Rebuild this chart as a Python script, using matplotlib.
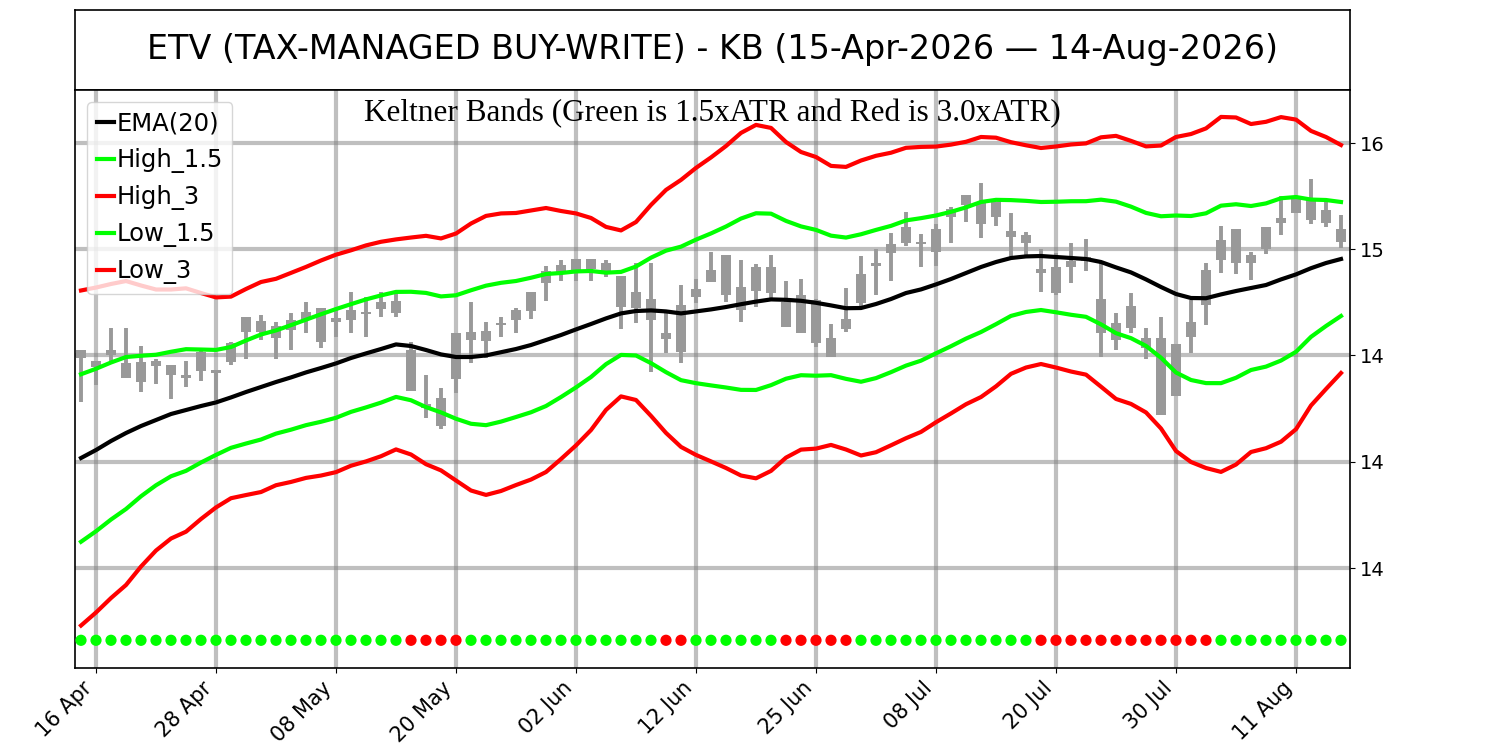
import numpy as np
import pandas as pd
import matplotlib
matplotlib.use('Agg')
import matplotlib.pyplot as plt
import matplotlib.transforms as mtransforms

# trading days 15-Apr-2026 .. 14-Aug-2026 (US holidays removed)
holidays = ['2026-05-25', '2026-06-19', '2026-07-03']
dates = pd.bdate_range('2026-04-15', '2026-08-14', freq='C', holidays=holidays)

open_ = [14.965, 14.882, 14.965, 14.899, 14.807, 14.910, 14.890, 14.827, 14.860, 14.865,
         14.904, 15.057, 15.110, 15.024, 15.065, 15.115, 15.004, 15.104, 15.115, 15.145,
         15.169, 15.149, 14.965, 14.694, 14.587, 14.820, 15.015, 15.010, 15.090, 15.115,
         15.162, 15.299, 15.349, 15.365, 15.419, 15.402, 15.335, 15.174, 15.219, 15.049,
         14.957, 15.232, 15.307, 15.440, 15.165, 15.262, 15.382, 15.207, 15.240, 15.215,
         15.024, 15.069, 15.199, 15.385, 15.449, 15.499, 15.507, 15.457, 15.629, 15.690,
         15.699, 15.632, 15.562, 15.540, 15.369, 15.252, 15.379, 15.429, 15.219, 15.015,
         15.185, 15.024, 15.024, 14.735, 15.029, 15.190, 15.415, 15.569, 15.402, 15.469,
         15.602, 15.649, 15.724, 15.665, 15.569]
high = [14.965, 14.910, 15.074, 15.074, 14.985, 14.920, 14.890, 14.910, 14.965, 14.865,
        15.004, 15.132, 15.140, 15.104, 15.149, 15.207, 15.174, 15.174, 15.254, 15.232,
        15.254, 15.254, 15.007, 14.840, 14.774, 15.049, 15.204, 15.107, 15.129, 15.174,
        15.257, 15.385, 15.415, 15.419, 15.419, 15.415, 15.335, 15.402, 15.399, 15.152,
        15.290, 15.319, 15.457, 15.440, 15.415, 15.395, 15.440, 15.310, 15.319, 15.219,
        15.095, 15.274, 15.435, 15.469, 15.552, 15.655, 15.545, 15.595, 15.679, 15.740,
        15.799, 15.707, 15.652, 15.557, 15.469, 15.449, 15.499, 15.519, 15.407, 15.149,
        15.249, 15.074, 15.132, 14.995, 15.215, 15.402, 15.585, 15.569, 15.457, 15.579,
        15.735, 15.735, 15.819, 15.715, 15.640]
low = [14.703, 14.790, 14.907, 14.827, 14.757, 14.794, 14.719, 14.779, 14.812, 14.715,
       14.890, 14.920, 15.015, 14.920, 14.965, 15.049, 14.974, 15.032, 15.049, 15.032,
       15.132, 15.132, 14.760, 14.627, 14.570, 14.749, 14.899, 14.924, 15.032, 15.049,
       15.119, 15.212, 15.312, 15.312, 15.312, 15.332, 15.069, 15.102, 14.857, 14.949,
       14.899, 15.199, 15.307, 15.207, 15.107, 15.179, 15.219, 15.082, 15.049, 14.982,
       14.929, 15.057, 15.169, 15.240, 15.312, 15.485, 15.379, 15.385, 15.502, 15.607,
       15.524, 15.585, 15.429, 15.429, 15.257, 15.240, 15.302, 15.362, 14.930, 14.965,
       15.049, 14.919, 14.640, 14.735, 14.949, 15.090, 15.349, 15.345, 15.315, 15.445,
       15.540, 15.649, 15.595, 15.579, 15.474]
close = [14.923, 14.910, 14.940, 14.827, 14.907, 14.885, 14.840, 14.840, 14.957, 14.849,
         14.999, 15.132, 15.057, 15.087, 15.115, 15.157, 15.174, 15.124, 15.165, 15.157,
         15.207, 15.210, 14.760, 14.674, 14.727, 15.049, 15.057, 15.060, 15.102, 15.165,
         15.257, 15.362, 15.390, 15.419, 15.369, 15.352, 15.179, 15.257, 15.115, 15.019,
         15.190, 15.269, 15.365, 15.240, 15.282, 15.379, 15.252, 15.082, 15.049, 14.999,
         14.932, 15.119, 15.345, 15.402, 15.495, 15.582, 15.495, 15.569, 15.669, 15.740,
         15.595, 15.707, 15.532, 15.499, 15.349, 15.379, 15.412, 15.412, 15.049, 15.100,
         15.074, 14.974, 14.640, 14.995, 15.107, 15.365, 15.515, 15.402, 15.440, 15.579,
         15.624, 15.724, 15.615, 15.602, 15.507]

ema20 = [14.425, 14.465, 14.510, 14.550, 14.585, 14.615, 14.645, 14.665, 14.685, 14.703,
         14.728, 14.755, 14.780, 14.805, 14.828, 14.853, 14.875, 14.898, 14.925, 14.948,
         14.970, 14.993, 14.985, 14.965, 14.943, 14.930, 14.930, 14.938, 14.954, 14.970,
         14.990, 15.015, 15.040, 15.068, 15.095, 15.123, 15.148, 15.160, 15.163, 15.158,
         15.148, 15.158, 15.168, 15.180, 15.194, 15.207, 15.218, 15.216, 15.211, 15.201,
         15.188, 15.174, 15.175, 15.195, 15.220, 15.250, 15.268, 15.293, 15.320, 15.350,
         15.380, 15.405, 15.425, 15.433, 15.435, 15.430, 15.425, 15.420, 15.405, 15.378,
         15.353, 15.318, 15.280, 15.245, 15.225, 15.224, 15.243, 15.260, 15.275, 15.290,
         15.318, 15.343, 15.374, 15.400, 15.420]
atr = [0.2792, 0.2708, 0.2617, 0.2533, 0.2342, 0.2175, 0.2075, 0.2028, 0.1883, 0.1750,
       0.1680, 0.1717, 0.1750, 0.1720, 0.1742, 0.1758, 0.1792, 0.1812, 0.1795, 0.1800,
       0.1787, 0.1750, 0.1808, 0.1903, 0.1933, 0.2058, 0.2225, 0.2325, 0.2313, 0.2267,
       0.2242, 0.2200, 0.2067, 0.1933, 0.1767, 0.1525, 0.1383, 0.1483, 0.1758, 0.2025,
       0.2225, 0.2392, 0.2533, 0.2683, 0.2855, 0.2945, 0.2858, 0.2630, 0.2480, 0.2430,
       0.2325, 0.2355, 0.2458, 0.2470, 0.2438, 0.2420, 0.2375, 0.2297, 0.2240, 0.2187,
       0.2167, 0.2072, 0.1930, 0.1852, 0.1800, 0.1842, 0.1892, 0.1927, 0.2078, 0.2192,
       0.2192, 0.2217, 0.2358, 0.2617, 0.2733, 0.2830, 0.2958, 0.2892, 0.2733, 0.2720,
       0.2705, 0.2580, 0.2288, 0.2100, 0.1900]

# 1 = red dot, 0 = green dot
signal = [0]*22 + [1]*4 + [0]*13 + [1]*2 + [0]*6 + [1]*5 + [0]*12 + [1]*12 + [0]*9

ytick_vals = [16.0, 15.469, 14.938, 14.406, 13.875]
ytick_labels = ['16', '15', '14', '14', '14']

df = pd.DataFrame({'open': open_, 'high': high, 'low': low, 'close': close,
                   'ema': ema20, 'atr': atr, 'sig': signal}, index=dates)
df['High_1.5'] = df['ema'] + 1.5*df['atr']
df['High_3'] = df['ema'] + 3.0*df['atr']
df['Low_1.5'] = df['ema'] - 1.5*df['atr']
df['Low_3'] = df['ema'] - 3.0*df['atr']

x = np.arange(len(df))

fig = plt.figure(figsize=(15, 7.5), dpi=100)

# title box
tax = fig.add_axes([0.05, 0.88, 0.85, 0.1067])
tax.set_xticks([])
tax.set_yticks([])
for s in tax.spines.values():
    s.set_linewidth(1.2)
tax.text(0.5, 0.5, 'ETV (TAX-MANAGED BUY-WRITE) - KB (15-Apr-2026 \u2014 14-Aug-2026)',
         ha='center', va='center', fontsize=24, transform=tax.transAxes)

ax = fig.add_axes([0.05, 0.1093, 0.85, 0.7707])

# candles
body_lo = np.minimum(df['open'], df['close'])
body_h = np.abs(df['close'] - df['open'])
ax.vlines(x, df['low'], df['high'], color='#999999', linewidth=2.8, zorder=2)
ax.bar(x, body_h, bottom=body_lo, width=0.66, color='#999999', zorder=2)

ax.plot(x, df['ema'], color='black', lw=3, label='EMA(20)', zorder=3)
ax.plot(x, df['High_1.5'], color='#00ff00', lw=3, label='High_1.5', zorder=3)
ax.plot(x, df['High_3'], color='red', lw=3, label='High_3', zorder=3)
ax.plot(x, df['Low_1.5'], color='#00ff00', lw=3, label='Low_1.5', zorder=3)
ax.plot(x, df['Low_3'], color='red', lw=3, label='Low_3', zorder=3)

# squeeze dots along the bottom
trans = mtransforms.blended_transform_factory(ax.transData, ax.transAxes)
cols = ['red' if v else '#00ff00' for v in df['sig']]
ax.scatter(x, np.full(len(x), 0.048), c=cols, s=50, transform=trans, zorder=4)

ax.set_xlim(-0.4, len(df) - 0.4)
ax.set_ylim(13.375, 16.265)

tick_idx = x[1::8]
ax.set_xticks(tick_idx)
ax.set_xticklabels([dates[i].strftime('%d %b') for i in tick_idx], rotation=45,
                   ha='right', fontsize=15)
ax.yaxis.tick_right()
ax.set_yticks(ytick_vals)
ax.set_yticklabels(ytick_labels, fontsize=14)
ax.grid(True, color='grey', alpha=0.5, linewidth=3)
for s in ax.spines.values():
    s.set_linewidth(1.2)

ax.text(0.5, 0.96, 'Keltner Bands (Green is 1.5xATR and Red is 3.0xATR)',
        transform=ax.transAxes, ha='center', va='center', fontsize=22.5,
        family='Liberation Serif')

ax.legend(loc='upper left', fontsize=17.5, handlelength=0.7, handletextpad=0.1,
          borderaxespad=0.5)

plt.savefig('out.png')
